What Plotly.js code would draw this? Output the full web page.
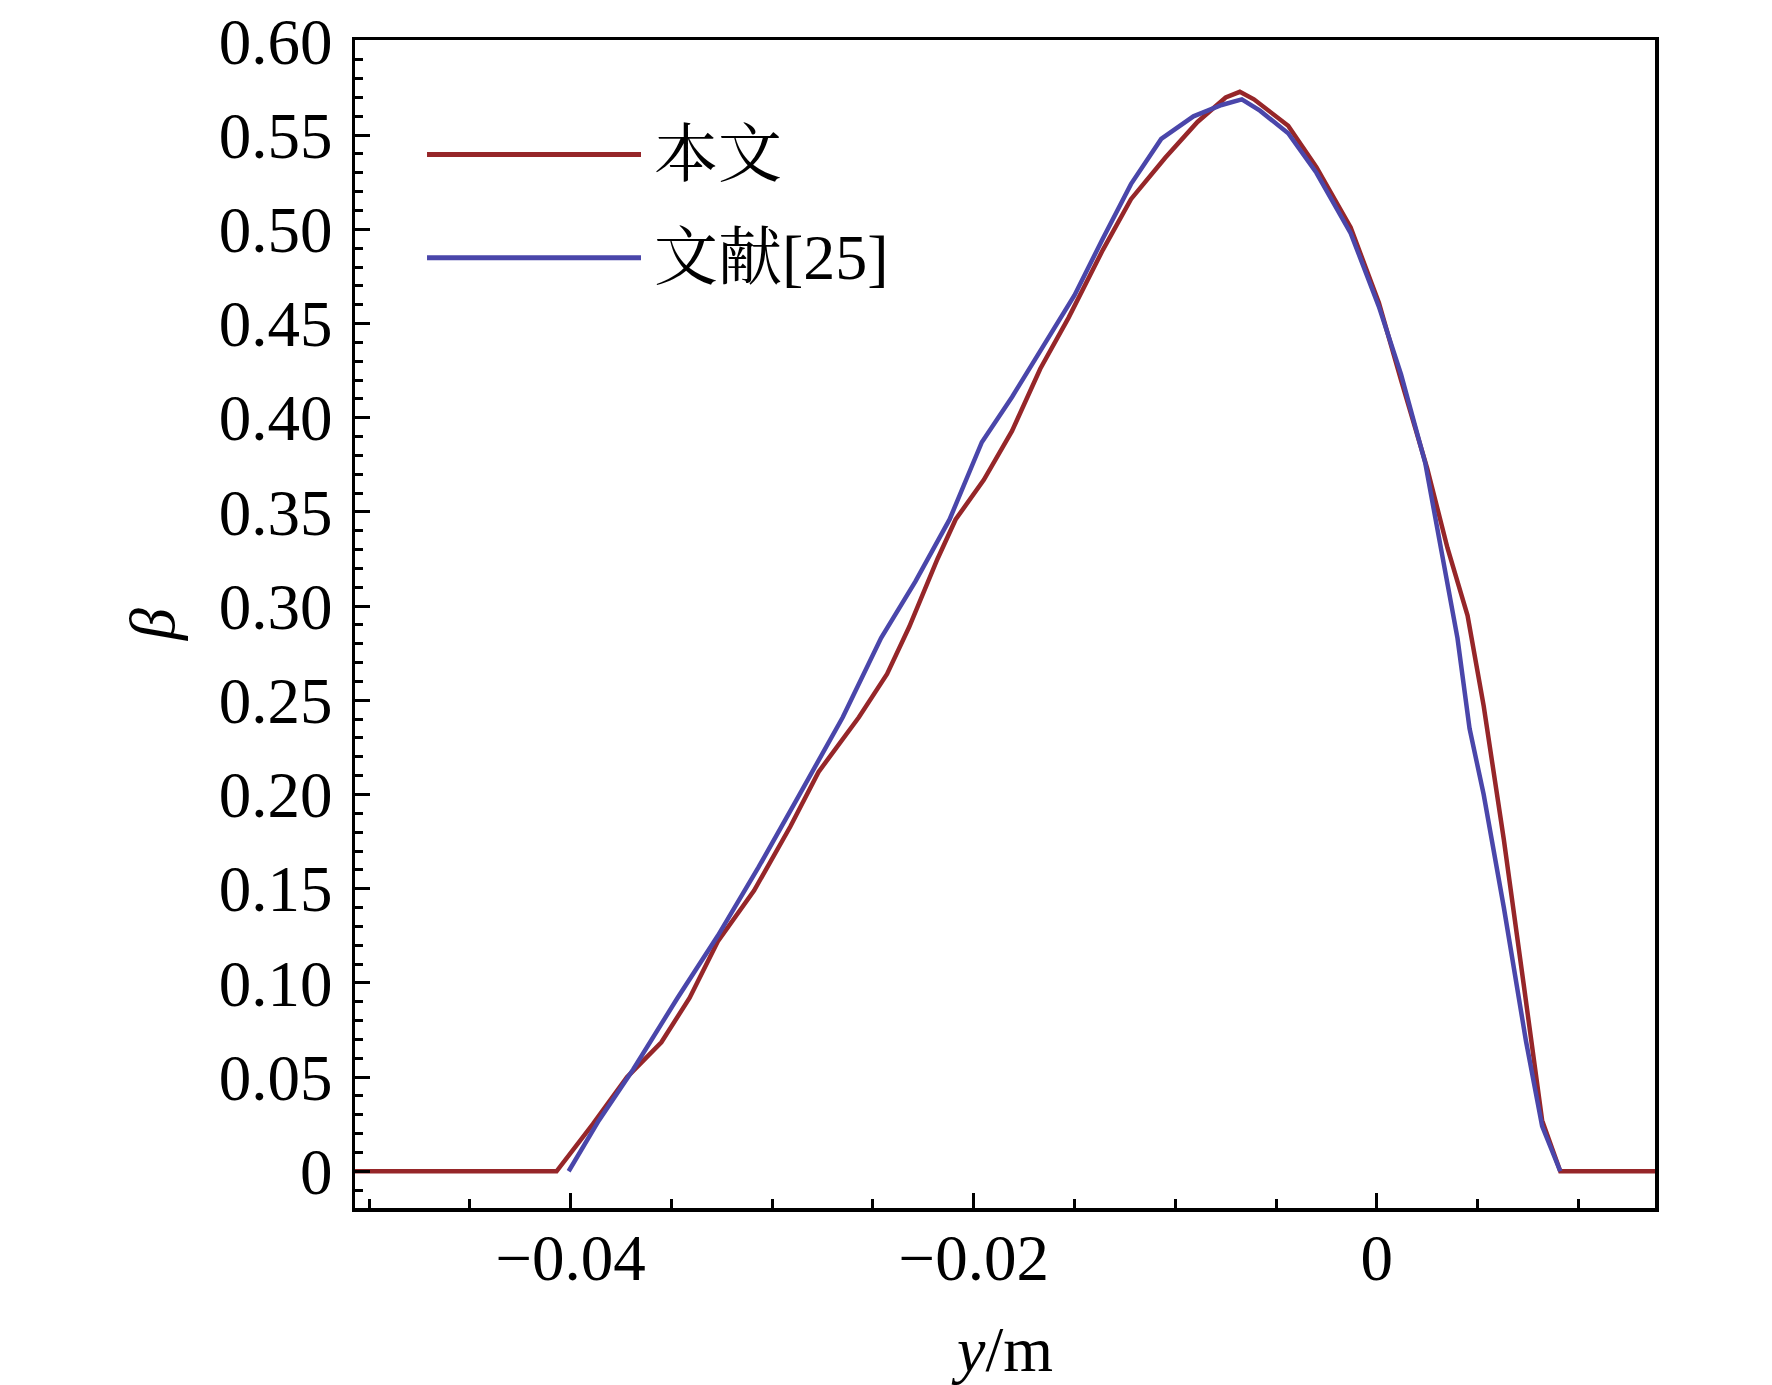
<!DOCTYPE html>
<html>
<head>
<meta charset="utf-8">
<script src="https://cdn.plot.ly/plotly-3.0.1.min.js"></script>
<style>html,body{margin:0;padding:0;background:#fff;}#chart{width:1772px;height:1385px;}</style>
</head>
<body>
<div id="chart"></div>
<script>
// 本文 (this paper)
const redX = [-0.0520, -0.0407, -0.0389, -0.0372, -0.0355, -0.0341, -0.0327, -0.0309, -0.0291, -0.0277, -0.0257, -0.0243, -0.0232, -0.0218, -0.0209, -0.0195, -0.0181, -0.0167, -0.0153, -0.0136, -0.0122, -0.0105, -0.0089, -0.0075, -0.0068, -0.0061, -0.0044, -0.0030, -0.0013, 0.0001, 0.0012, 0.0025, 0.0035, 0.0045, 0.0053, 0.0063, 0.0073, 0.0082, 0.0091, 0.0150];
const redY = [0, 0, 0.025, 0.050, 0.0685, 0.092, 0.122, 0.149, 0.183, 0.212, 0.241, 0.264, 0.289, 0.325, 0.346, 0.367, 0.393, 0.426, 0.453, 0.489, 0.516, 0.538, 0.557, 0.570, 0.573, 0.569, 0.555, 0.533, 0.501, 0.461, 0.420, 0.373, 0.331, 0.295, 0.247, 0.176, 0.098, 0.027, 0, 0];
// 文献[25] (reference 25)
const blueX = [-0.0401, -0.0386, -0.0369, -0.0347, -0.0327, -0.0307, -0.0288, -0.0265, -0.0246, -0.0229, -0.0212, -0.0196, -0.0181, -0.0167, -0.0150, -0.0136, -0.0122, -0.0107, -0.0091, -0.0077, -0.0067, -0.0058, -0.0044, -0.0030, -0.0013, 0.0001, 0.0012, 0.0024, 0.0032, 0.0040, 0.0046, 0.0053, 0.0063, 0.0074, 0.0082, 0.0091];
const blueY = [0, 0.027, 0.054, 0.092, 0.125, 0.161, 0.197, 0.241, 0.283, 0.313, 0.346, 0.387, 0.411, 0.435, 0.465, 0.495, 0.524, 0.548, 0.560, 0.566, 0.569, 0.563, 0.551, 0.530, 0.498, 0.459, 0.423, 0.376, 0.331, 0.283, 0.235, 0.200, 0.140, 0.069, 0.024, 0];

const seriesNames = ['本文', '文献[25]'];
const yTickVals = [0, 0.05, 0.10, 0.15, 0.20, 0.25, 0.30, 0.35, 0.40, 0.45, 0.50, 0.55, 0.60];
const yTickText = ['0', '0.05', '0.10', '0.15', '0.20', '0.25', '0.30', '0.35', '0.40', '0.45', '0.50', '0.55', '0.60'];
const xTickVals = [-0.04, -0.02, 0];
const xTickText = ['\u22120.04', '\u22120.02', '0'];

const redColor = '#962629';
const blueColor = '#4a46aa';
const serif = '"Liberation Serif", "Times New Roman", serif';
const cjk = '"Liberation Serif", "Noto Serif CJK SC", "Noto Sans CJK SC", serif';

const traces = [
  {x: redX, y: redY, name: seriesNames[0], mode: 'lines', line: {color: redColor, width: 4.5}},
  {x: blueX, y: blueY, name: seriesNames[1], mode: 'lines', line: {color: blueColor, width: 4.5}}
];

const axisCommon = {
  showgrid: false, zeroline: false, showline: true, mirror: true,
  linecolor: '#000', linewidth: 3.5,
  ticks: 'inside', ticklen: 15, tickwidth: 3, tickcolor: '#000',
  tickfont: {family: serif, size: 65, color: '#000'},
  ticklabeloverflow: 'allow'
};

const layout = {
  width: 1772, height: 1385,
  margin: {l: 355, r: 117, t: 40, b: 177},
  paper_bgcolor: '#fff', plot_bgcolor: '#fff',
  showlegend: false,
  xaxis: Object.assign({}, axisCommon, {
    range: [-0.0507, 0.0138],
    tickmode: 'array', tickvals: xTickVals, ticktext: xTickText,
    ticklabelstandoff: -10,
    minor: {tick0: 0, dtick: 0.005, ticks: 'inside', ticklen: 9, tickwidth: 3, tickcolor: '#000'},
    title: {text: '<i>y</i>/m', font: {family: serif, size: 64, color: '#000'}, standoff: 37}
  }),
  yaxis: Object.assign({}, axisCommon, {
    range: [-0.0195, 0.6005],
    tickmode: 'array', tickvals: yTickVals, ticktext: yTickText,
    ticklabelstandoff: 6,
    minor: {tick0: 0, dtick: 0.01, ticks: 'inside', ticklen: 8, tickwidth: 3, tickcolor: '#000'},
    title: {text: '<i>β</i>', font: {family: serif, size: 64, color: '#000'}, standoff: 24}
  }),
  shapes: [
    {type: 'line', xref: 'paper', yref: 'paper', x0: 0.0554, x1: 0.2200, y0: 0.902, y1: 0.902, line: {color: redColor, width: 5}},
    {type: 'line', xref: 'paper', yref: 'paper', x0: 0.0554, x1: 0.2200, y0: 0.8136, y1: 0.8136, line: {color: blueColor, width: 5}}
  ],
  annotations: [
    {xref: 'paper', yref: 'paper', x: 0.2285, y: 0.902, xanchor: 'left', yanchor: 'middle', showarrow: false, text: seriesNames[0], font: {family: cjk, size: 64, color: '#000'}},
    {xref: 'paper', yref: 'paper', x: 0.2285, y: 0.8136, xanchor: 'left', yanchor: 'middle', showarrow: false, text: seriesNames[1], font: {family: cjk, size: 64, color: '#000'}}
  ]
};

Plotly.newPlot('chart', traces, layout, {staticPlot: true, displayModeBar: false});
</script>
</body>
</html>
